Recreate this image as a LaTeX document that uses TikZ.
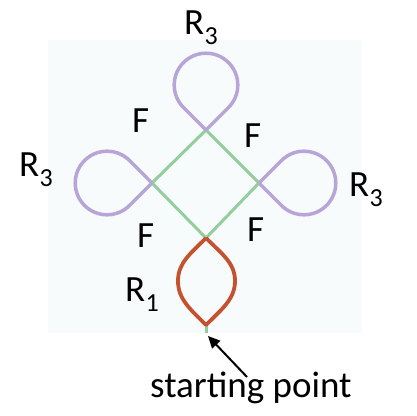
\documentclass[tikz,border=0pt]{standalone}
\usepackage{fontspec}
\setmainfont{Carlito}
\usetikzlibrary{arrows.meta}
\definecolor{bgc}{HTML}{F8FBFC}
\definecolor{grn}{HTML}{93CF9C}
\definecolor{prp}{HTML}{B8A5D8}
\definecolor{red1}{HTML}{C4522F}
\newcommand\Rsub[1]{R\kern0.3pt\raisebox{-10pt}{\fontsize{26}{26}\selectfont #1}}
\tikzset{
  lbl/.style={anchor=base west, inner sep=0pt, font=\fontsize{37}{37}\selectfont},
  edgeg/.style={draw=grn, line width=3pt, line cap=round},
  loopp/.style={draw=prp, line width=3.5pt, line join=round},
  lens/.style={draw=red1, line width=3.8pt, line join=round},
}
\begin{document}
\begin{tikzpicture}[x=1pt,y=1pt]
\useasboundingbox (0,0) rectangle (416,416);
\fill[bgc] (48,83) rectangle (362,376);
% diamond vertices
\coordinate (T) at (206,286);
\coordinate (L) at (152,233);
\coordinate (R) at (259,233);
\coordinate (B) at (206,178);
% lens points
\coordinate (S) at (206,91);
\coordinate (SL) at (178,135);
\coordinate (SR) at (235,135);
\coordinate (Stub) at (206,83);
% arrow
\coordinate (Atail) at (247,39);
\coordinate (Atip) at (208,80);
% green diamond
\draw[edgeg] (T) -- (L) -- (B) -- (R) -- cycle;
% loops
\draw[loopp] (T) -- ++(45:31.8) arc[start angle=-45, end angle=225, radius=31.8] -- (T);
\draw[loopp] (L) -- ++(135:31.8) arc[start angle=45, end angle=315, radius=31.8] -- (L);
\draw[loopp] (R) -- ++(-45:31.8) arc[start angle=225, end angle=495, radius=31.8] -- (R);
% stub
\draw[draw=grn, line width=3pt] (S) -- (Stub);
% R1 lens
\draw[lens] (B) .. controls +(-16,-16) and +(0,18) .. (SL)
  .. controls +(0,-18) and +(-16,16) .. (S)
  .. controls +(16,16) and +(0,-18) .. (SR)
  .. controls +(0,18) and +(16,-16) .. (B);
% arrow
\draw[line width=2pt, -{Triangle[length=12pt, width=11pt]}] (Atail) -- (Atip);
% labels
\node[lbl] (r3t) at (184,381) {\Rsub{3}};
\node[lbl] (r3l) at (19,239) {\Rsub{3}};
\node[lbl] (r3r) at (349,219) {\Rsub{3}};
\node[lbl] (f1) at (132,283) {F};
\node[lbl] (f2) at (244,268) {F};
\node[lbl] (f3) at (137,168) {F};
\node[lbl] (f4) at (247,174) {F};
\node[lbl] (r1) at (125,114) {\Rsub{1}};
\node[lbl] (sp) at (150,18) {starting point};
\end{tikzpicture}
\end{document}
